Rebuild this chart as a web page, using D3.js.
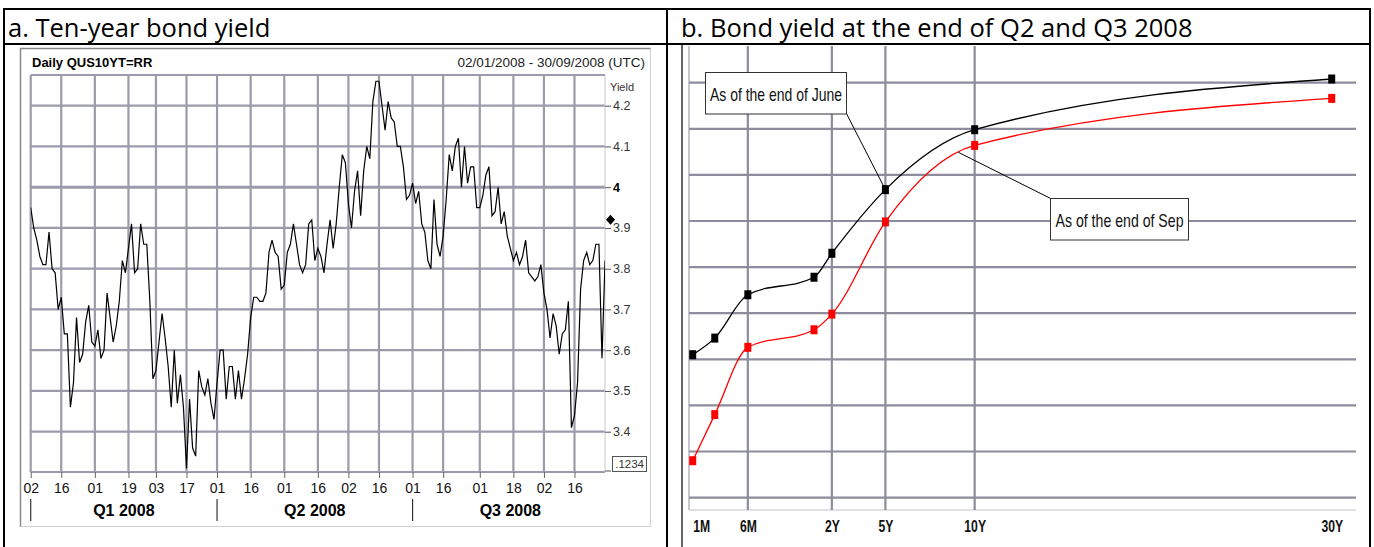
<!DOCTYPE html>
<html>
<head>
<meta charset="utf-8">
<script src="https://d3js.org/d3.v7.min.js"></script>
<style>
body { margin: 0; background: #fff; }
svg { display: block; }
</style>
</head>
<body>
<script>
const width = 1374;
const height = 547;

// panel a: 10-year yield, one close per trading day, 02/01/2008 - 30/09/2008
const yields = [
  3.95, 3.90, 3.87, 3.83, 3.81, 3.81, 3.89, 3.80, 3.79, 3.70,
  3.73, 3.64, 3.64, 3.46, 3.52, 3.68, 3.57, 3.59, 3.67, 3.71,
  3.62, 3.61, 3.65, 3.58, 3.60, 3.74, 3.68, 3.62, 3.66, 3.72,
  3.82, 3.79, 3.85, 3.91, 3.79, 3.80, 3.91, 3.86, 3.86, 3.72,
  3.53, 3.55, 3.62, 3.69, 3.63, 3.56, 3.46, 3.60, 3.47, 3.54,
  3.46, 3.31, 3.48, 3.36, 3.34, 3.55, 3.51, 3.49, 3.53, 3.47,
  3.43, 3.52, 3.60, 3.60, 3.48, 3.56, 3.56, 3.48, 3.55, 3.48,
  3.53, 3.59, 3.68, 3.73, 3.73, 3.72, 3.72, 3.74, 3.84, 3.87,
  3.84, 3.83, 3.75, 3.76, 3.84, 3.86, 3.91, 3.86, 3.81, 3.79,
  3.81, 3.91, 3.92, 3.82, 3.85, 3.83, 3.79, 3.86, 3.92, 3.85,
  3.91, 4.00, 4.08, 4.06, 3.96, 3.90, 3.99, 4.04, 3.93, 4.04,
  4.10, 4.07, 4.21, 4.26, 4.26, 4.20, 4.14, 4.21, 4.17, 4.16,
  4.10, 4.10, 4.05, 3.97, 3.98, 4.01, 3.96, 3.99, 3.91, 3.89,
  3.82, 3.80, 3.97, 3.86, 3.83, 3.88, 3.97, 4.08, 4.04, 4.10,
  4.12, 4.00, 4.10, 4.01, 4.05, 4.05, 3.95, 3.95, 3.98, 4.03,
  4.05, 3.93, 3.94, 4.00, 3.91, 3.94, 3.88, 3.85, 3.82, 3.84,
  3.81, 3.83, 3.87, 3.79, 3.78, 3.77, 3.78, 3.81, 3.74, 3.70,
  3.63, 3.69, 3.66, 3.59, 3.64, 3.65, 3.72, 3.41, 3.44, 3.52,
  3.75, 3.82, 3.84, 3.81, 3.82, 3.86, 3.86, 3.58, 3.82, 3.75
];
const dayTicks = [0, 10, 21, 32, 41, 51, 61, 72, 83, 94, 104, 114, 125, 135, 147, 158, 168, 178];
const dayTickLabels = ['02', '16', '01', '19', '03', '17', '01', '16', '01', '16', '02', '16', '01', '16', '01', '18', '02', '16'];
const quarterLabels = ['Q1 2008', 'Q2 2008', 'Q3 2008'];
const quarterStarts = [0, 61, 125];
const yieldTicks = [3.4, 3.5, 3.6, 3.7, 3.8, 3.9, 4.0, 4.1, 4.2];
const lastQuote = 3.92;

// panel b: yield curve, tenors in months
const tenors = [1, 3, 6, 12, 24, 60, 120, 360];
const juneCurve = [1.55, 1.73, 2.20, 2.39, 2.65, 3.34, 3.99, 4.54];
const sepCurve = [0.40, 0.90, 1.63, 1.82, 1.99, 2.99, 3.82, 4.33];
const tenorTicks = [1, 6, 24, 60, 120, 360];
const tenorLabels = ['1M', '6M', '2Y', '5Y', '10Y', '30Y'];
const curveGrid = [0, 0.5, 1, 1.5, 2, 2.5, 3, 3.5, 4, 4.5];

let svg;

const createSvg = () => {
    return d3.select('body')
             .append('svg')
             .attr('width', width)
             .attr('height', height);
};

// no narrow font installed, so squeeze Liberation Sans
const narrow = (sel, k) => {
    sel.each(function () {
        const w = this.getComputedTextLength();
        d3.select(this).attr('textLength', w * k).attr('lengthAdjust', 'spacingAndGlyphs');
    });
};

const createTable = () => {
    const g = svg.append('g').attr('stroke', '#000').attr('stroke-width', 2);
    g.append('line').attr('x1', 3).attr('x2', 1371).attr('y1', 9).attr('y2', 9);
    g.append('line').attr('x1', 3).attr('x2', 1371).attr('y1', 44).attr('y2', 44);
    [4, 667, 1370].forEach(x => {
        g.append('line').attr('x1', x).attr('x2', x).attr('y1', 8).attr('y2', height);
    });
    svg.append('text').attr('x', 8).attr('y', 37)
       .style('font', '25.5px "Open Sans"').text('a. Ten-year bond yield');
    svg.append('text').attr('x', 681).attr('y', 37)
       .style('font', '25.5px "Open Sans"').text('b. Bond yield at the end of Q2 and Q3 2008');
};

// ---------- panel a ----------
const plotA = {left: 30.7, right: 605, top: 75, bottom: 472};

const createPanelA = () => {
    const xScale = d3.scaleLinear().domain([0, yields.length - 1]).range([30.7, 30.7 + 3.055 * (yields.length - 1)]);
    const yScale = d3.scaleLinear().domain([3.4, 4.2]).range([431.7, 105.7]);
    const g = svg.append('g');

    // frame
    g.append('rect').attr('x', 20.5).attr('y', 48.5).attr('width', 630).attr('height', 478)
     .attr('fill', '#fff').attr('stroke', '#d2d2d2');
    g.append('path').attr('d', 'M20.5,526.5V48.5H650.5').attr('fill', 'none').attr('stroke', '#8a8a8a').attr('stroke-width', 1.5);

    g.append('text').attr('x', 32).attr('y', 67)
     .style('font', 'bold 13px "Liberation Sans"').text('Daily QUS10YT=RR');
    g.append('text').attr('x', 645).attr('y', 67).attr('text-anchor', 'end')
     .style('font', '13.5px "Liberation Sans"').attr('fill', '#222').text('02/01/2008 - 30/09/2008 (UTC)');

    // grid
    const grid = g.append('g').attr('stroke', '#9b9bab').attr('stroke-width', 2.2);
    grid.selectAll('.h').data(yieldTicks.concat([yScale.invert(plotA.top), yScale.invert(plotA.bottom)]))
        .enter().append('line')
        .attr('x1', plotA.left).attr('x2', plotA.right)
        .attr('y1', d => yScale(d)).attr('y2', d => yScale(d))
        .attr('stroke-width', d => Math.abs(d - 4) < 1e-9 ? 3 : 2.2);
    grid.selectAll('.v').data(dayTicks).enter().append('line')
        .attr('x1', d => xScale(d)).attr('x2', d => xScale(d))
        .attr('y1', plotA.top).attr('y2', plotA.bottom);

    // bottom axis
    const bottom = g.append('g')
        .attr('transform', `translate(0, ${plotA.bottom})`)
        .call(d3.axisBottom(xScale).tickValues(dayTicks).tickSize(6).tickPadding(5)
               .tickFormat((d, i) => dayTickLabels[i]));
    bottom.select('.domain').remove();
    bottom.selectAll('line').attr('stroke', '#666');
    bottom.selectAll('text').style('font', '14px "Liberation Sans"').attr('fill', '#111');

    // quarters
    const qEnds = quarterStarts.slice(1).concat([yields.length - 1]);
    g.selectAll('.qsep').data(quarterStarts).enter().append('line')
     .attr('x1', d => xScale(d)).attr('x2', d => xScale(d))
     .attr('y1', 499).attr('y2', 521).attr('stroke', '#333').attr('stroke-width', 1.2);
    g.selectAll('.qlab').data(quarterLabels).enter().append('text')
     .attr('x', (d, i) => xScale((quarterStarts[i] + qEnds[i]) / 2))
     .attr('y', 516).attr('text-anchor', 'middle')
     .style('font', 'bold 16px "Liberation Sans"').text(d => d);

    // right axis
    const right = g.append('g')
        .attr('transform', `translate(${plotA.right}, 0)`)
        .call(d3.axisRight(yScale).tickValues(yieldTicks).tickSize(6).tickPadding(2)
               .tickFormat(d => Math.abs(d - 4) < 1e-9 ? '4' : d3.format('.1f')(d)));
    right.select('.domain').attr('d', `M0,${plotA.top}V${plotA.bottom}`).attr('stroke', '#c8c8d0');
    right.selectAll('line').attr('stroke', '#555');
    right.selectAll('text').style('font', '12.5px "Liberation Sans"')
         .style('font-weight', d => Math.abs(d - 4) < 1e-9 ? 'bold' : 'normal')
         .attr('fill', d => Math.abs(d - 4) < 1e-9 ? '#000' : '#333');
    g.append('text').attr('x', 610).attr('y', 91)
     .style('font', '11px "Liberation Sans"').attr('fill', '#333').text('Yield');

    // bottom value box
    g.append('line').attr('x1', plotA.right).attr('x2', plotA.right + 6)
     .attr('y1', plotA.bottom - 1).attr('y2', plotA.bottom - 1).attr('stroke', '#555');
    g.append('rect').attr('x', 612.5).attr('y', 456.5).attr('width', 34).attr('height', 15)
     .attr('fill', '#fff').attr('stroke', '#555');
    g.append('text').attr('x', 644).attr('y', 468).attr('text-anchor', 'end')
     .style('font', '11.5px "Liberation Sans"').attr('fill', '#333').text('.1234');

    // line
    svg.append('clipPath').attr('id', 'clipA').append('rect')
       .attr('x', plotA.left).attr('y', plotA.top)
       .attr('width', plotA.right - plotA.left).attr('height', plotA.bottom - plotA.top);
    g.append('path').datum(yields)
     .attr('clip-path', 'url(#clipA)')
     .attr('d', d3.line().x((d, i) => xScale(i)).y(d => yScale(d)))
     .attr('fill', 'none').attr('stroke', '#000').attr('stroke-width', 1.2);

    // last quote marker
    const yq = yScale(lastQuote);
    g.append('path').attr('d', `M610.5,${yq - 5}L615,${yq}L610.5,${yq + 5}L606,${yq}Z`).attr('fill', '#000');
};

// ---------- panel b ----------
const plotB = {left: 689, right: 1356, top: 46, bottom: 510};

const createPanelB = () => {
    const xScale = d3.scaleLinear().domain([1, 12, 360]).range([692.7, 814, 1331.7]);
    const yScale = d3.scaleLinear().domain([0, 4.5]).range([497.6, 82.7]);
    const g = svg.append('g');

    g.append('line').attr('x1', 682).attr('x2', 682).attr('y1', 45).attr('y2', height)
     .attr('stroke', '#333').attr('stroke-width', 1.5);
    g.append('line').attr('x1', plotB.left).attr('x2', plotB.left).attr('y1', plotB.top).attr('y2', plotB.bottom)
     .attr('stroke', '#a0a0ac').attr('stroke-width', 1.2);
    g.append('line').attr('x1', plotB.left).attr('x2', plotB.right).attr('y1', plotB.bottom).attr('y2', plotB.bottom)
     .attr('stroke', '#c4c4cc').attr('stroke-width', 1.2);

    const grid = g.append('g').attr('stroke', '#8c8c9c').attr('stroke-width', 2.2);
    grid.selectAll('.h').data(curveGrid).enter().append('line')
        .attr('x1', plotB.left).attr('x2', plotB.right)
        .attr('y1', d => yScale(d)).attr('y2', d => yScale(d));
    grid.selectAll('.v').data(tenorTicks.slice(1, 5)).enter().append('line')
        .attr('x1', d => xScale(d)).attr('x2', d => xScale(d))
        .attr('y1', plotB.top).attr('y2', plotB.bottom);

    const axis = g.append('g')
        .attr('transform', `translate(0, ${plotB.bottom})`)
        .call(d3.axisBottom(xScale).tickValues(tenorTicks).tickSize(0).tickPadding(11)
               .tickFormat((d, i) => tenorLabels[i]));
    axis.select('.domain').remove();
    axis.selectAll('text').style('font', 'bold 16px "Liberation Sans"').attr('fill', '#111')
        .attr('text-anchor', (d, i) => i === 0 ? 'start' : 'middle')
        .call(narrow, 0.76);

    const line = d3.line().curve(d3.curveMonotoneX)
                   .x((d, i) => xScale(tenors[i])).y(d => yScale(d));

    const series = [{values: sepCurve, color: '#ff0000'}, {values: juneCurve, color: '#000'}];
    series.forEach(s => {
        g.append('path').datum(s.values).attr('d', line)
         .attr('fill', 'none').attr('stroke', s.color).attr('stroke-width', 1.3);
        g.selectAll(null).data(s.values).enter().append('rect')
         .attr('x', (d, i) => xScale(tenors[i]) - 3.5).attr('y', d => yScale(d) - 4.5)
         .attr('width', 7).attr('height', 9).attr('fill', s.color);
    });

    // callouts
    const juneTip = [xScale(60), yScale(juneCurve[5])];
    g.append('line').attr('x1', 846.7).attr('y1', 114).attr('x2', juneTip[0]).attr('y2', juneTip[1])
     .attr('stroke', '#000').attr('stroke-width', 1);
    g.append('rect').attr('x', 705.5).attr('y', 72.5).attr('width', 141).attr('height', 41.5)
     .attr('fill', '#fff').attr('stroke', '#333');
    g.append('text').attr('x', 776).attr('y', 101).attr('text-anchor', 'middle')
     .style('font', '19px "Liberation Sans"').attr('fill', '#111')
     .attr('textLength', 132).attr('lengthAdjust', 'spacingAndGlyphs')
     .text('As of the end of June');

    const sepTip = [xScale(109), yScale(3.745)];
    g.append('line').attr('x1', 1050.7).attr('y1', 198.5).attr('x2', sepTip[0]).attr('y2', sepTip[1])
     .attr('stroke', '#000').attr('stroke-width', 1);
    g.append('rect').attr('x', 1050.5).attr('y', 198.5).attr('width', 138).attr('height', 41.5)
     .attr('fill', '#fff').attr('stroke', '#333');
    g.append('text').attr('x', 1119.5).attr('y', 226.5).attr('text-anchor', 'middle')
     .style('font', '19px "Liberation Sans"').attr('fill', '#111')
     .attr('textLength', 128).attr('lengthAdjust', 'spacingAndGlyphs')
     .text('As of the end of Sep');
};

const driver = () => {
    svg = createSvg();
    createTable();
    createPanelA();
    createPanelB();
};

driver();
</script>
</body>
</html>
